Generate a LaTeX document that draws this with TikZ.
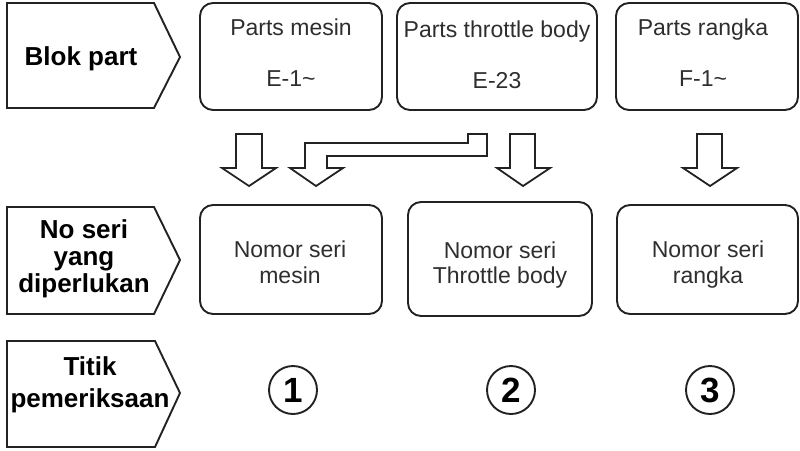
\documentclass[tikz,border=0pt]{standalone}
\usepackage{fontspec}
\setmainfont{Liberation Sans}
\definecolor{ink}{HTML}{222222}
\definecolor{txtgray}{HTML}{2E2E2E}
\begin{document}
\begin{tikzpicture}[x=1pt,y=-1pt,
  line width=1.9pt, draw=ink,
  reg/.style={anchor=base, text=txtgray, font=\fontsize{23}{27}\selectfont, inner sep=0pt},
  hdr/.style={anchor=base, text=black, font=\fontsize{26}{30}\bfseries\selectfont, inner sep=0pt},
  num/.style={circle, draw=ink, line width=1.9pt, minimum size=48pt, inner sep=0pt, font=\fontsize{35}{40}\bfseries\selectfont},
  blockarrow/.style={draw=ink, line width=1.8pt, fill=white, line join=miter}
]
\useasboundingbox (0,0) rectangle (800,450);

% header pentagons
\draw (7,3) -- (154,3) -- (180,57) -- (154,108) -- (7,108) -- cycle;
\node[hdr] (h1) at (81,65) {Blok part};

\draw (7,207) -- (154,207) -- (180,260) -- (154,314) -- (7,314) -- cycle;
\node[hdr] (h2a) at (84,238) {No seri};
\node[hdr] (h2b) at (84,265) {yang};
\node[hdr] (h2c) at (84,292) {diperlukan};

\draw (7,341) -- (155,341) -- (180,393) -- (155,447) -- (7,447) -- cycle;
\node[hdr] (h3a) at (90,375) {Titik};
\node[hdr] (h3b) at (90,407) {pemeriksaan};

% row 1 boxes
\draw[rounded corners=13pt] (200,3) rectangle (382,110);
\node[reg] (p1a) at (291,35) {Parts mesin};
\node[reg] (p1b) at (291,86) {E-1\char`~};

\draw[rounded corners=13pt] (397,3) rectangle (597,110);
\node[reg] (p2a) at (497,37) {Parts throttle body};
\node[reg] (p2b) at (497,88) {E-23};

\draw[rounded corners=13pt] (616,3) rectangle (798,110);
\node[reg] (p3a) at (703,35) {Parts rangka};
\node[reg] (p3b) at (703,86) {F-1\char`~};

% row 2 boxes
\draw[rounded corners=13pt] (200,205) rectangle (382,314);
\node[reg] (n1a) at (290,257) {Nomor seri};
\node[reg] (n1b) at (290,283) {mesin};

\draw[rounded corners=13pt] (408,202) rectangle (592,316);
\node[reg] (n2a) at (500,258) {Nomor seri};
\node[reg] (n2b) at (500,283) {Throttle body};

\draw[rounded corners=13pt] (617,205) rectangle (798,314);
\node[reg] (n3a) at (708,257) {Nomor seri};
\node[reg] (n3b) at (708,283) {rangka};

% block arrows
\draw[blockarrow] (236,134) -- (262,134) -- (262,168) -- (276,168) -- (249,186) -- (222,168) -- (236,168) -- cycle;
\draw[blockarrow] (305,168) -- (305,143) -- (468,143) -- (468,134) -- (487,134) -- (487,156) -- (327,156) -- (327,168) -- (343,168) -- (316,186) -- (290,168) -- cycle;
\draw[blockarrow] (510,134) -- (535,134) -- (535,168) -- (550,168) -- (523,186) -- (497,168) -- (510,168) -- cycle;
\draw[blockarrow] (697,134) -- (722,134) -- (722,168) -- (737,168) -- (710,186) -- (683,168) -- (697,168) -- cycle;

% numbered circles
\node[num] (c1) at (293,390) {1};
\node[num] (c2) at (511,390) {2};
\node[num] (c3) at (710,390) {3};
\end{tikzpicture}
\end{document}
